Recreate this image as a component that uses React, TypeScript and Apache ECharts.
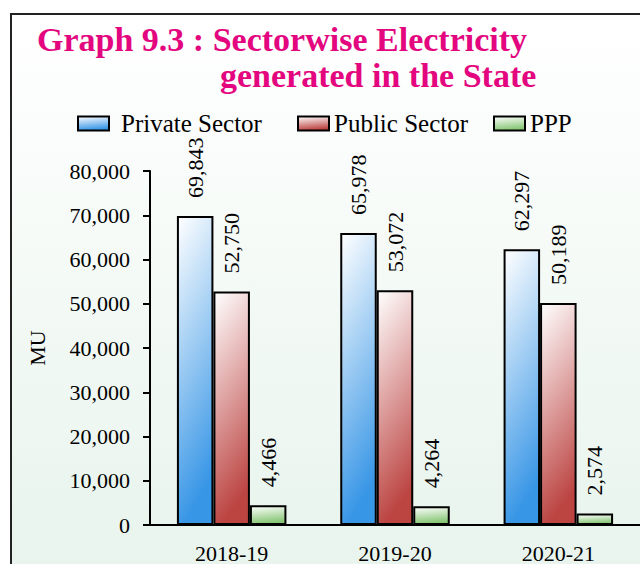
import React, { useEffect, useRef } from "react";
import * as echarts from "echarts";

const categories = ["2018-19", "2019-20", "2020-21"];
const privateSector = [69843, 65978, 62297];
const publicSector = [52750, 53072, 50189];
const ppp = [4466, 4264, 2574];
const seriesNames = ["Private Sector", "Public Sector", "PPP"];
const titleLine1 = "Graph 9.3 : Sectorwise Electricity";
const titleLine2 = "generated in the State";
const yAxisName = "MU";

const FONT = "'Liberation Serif', 'Times New Roman', serif";

const fmt = (v: number) => v.toLocaleString("en-US");

const grad = (to: string) =>
  new echarts.graphic.LinearGradient(0, 0, 0.2, 1, [
    { offset: 0, color: "#ffffff" },
    { offset: 1, color: to },
  ]);

export default function App() {
  const ref = useRef<HTMLDivElement>(null);
  useEffect(() => {
    if (!ref.current) return;
    const chart = echarts.init(ref.current, undefined, { renderer: "svg" });
    const label = {
      show: true,
      position: "top" as const,
      rotate: 90,
      align: "left" as const,
      verticalAlign: "middle" as const,
      distance: 18,
      fontFamily: FONT,
      fontSize: 22,
      color: "#000",
      formatter: (p: any) => fmt(p.value),
    };
    const mk = (name: string, data: number[], color: string) => ({
      name,
      type: "bar" as const,
      data,
      barWidth: 36.5,
      barGap: "0%",
      itemStyle: { color: grad(color), borderColor: "#000", borderWidth: 2 },
      label,
    });
    const legendBase = {
      orient: "horizontal" as const,
      top: 111,
      padding: 0,
      icon: "rect",
      itemWidth: 31,
      itemHeight: 14,
      textStyle: { fontFamily: FONT, fontSize: 25, color: "#000" },
    };
    chart.setOption({
      animation: false,
      backgroundColor: "#ffffff",
      graphic: [
        {
          type: "rect",
          z: -10,
          silent: true,
          shape: { x: 11, y: 14, width: 660, height: 600 },
          style: {
            fill: new echarts.graphic.LinearGradient(0, 0, 0, 1, [
              { offset: 0, color: "#ffffff" },
              { offset: 1, color: "#e6f3eb" },
            ]),
            stroke: "#222",
            lineWidth: 2,
          },
        },
      ],
      title: [
        {
          text: titleLine1,
          left: 37,
          top: 22,
          padding: 0,
          textStyle: { fontFamily: FONT, fontSize: 34, fontWeight: "bold", color: "#e3067f" },
        },
        {
          text: titleLine2,
          left: 220,
          top: 58,
          padding: 0,
          textStyle: { fontFamily: FONT, fontSize: 34, fontWeight: "bold", color: "#e3067f" },
        },
      ],
      legend: [
        { ...legendBase, left: 77, data: [seriesNames[0]], textStyle: { ...legendBase.textStyle, padding: [0, 0, 0, 7] } },
        { ...legendBase, left: 297, data: [seriesNames[1]] },
        { ...legendBase, left: 493, data: [seriesNames[2]] },
      ],
      grid: { left: 150, top: 171, width: 495, height: 357, containLabel: false },
      xAxis: {
        type: "category",
        data: categories,
        axisLine: { lineStyle: { color: "#000", width: 2 } },
        axisTick: { show: false },
        axisLabel: { fontFamily: FONT, fontSize: 22, color: "#000", margin: 17 },
      },
      yAxis: {
        type: "value",
        min: 0,
        max: 80000,
        interval: 10000,
        name: yAxisName,
        nameLocation: "middle",
        nameRotate: 90,
        nameGap: 102,
        nameTextStyle: { fontFamily: FONT, fontSize: 22, color: "#000" },
        axisLine: { show: true, lineStyle: { color: "#000", width: 2 } },
        axisTick: { show: true, length: 7, lineStyle: { color: "#000", width: 2 } },
        axisLabel: { fontFamily: FONT, fontSize: 22, color: "#000", margin: 20, formatter: (v: number) => fmt(v) },
        splitLine: { show: false },
      },
      series: [
        mk(seriesNames[0], privateSector, "#3896e6"),
        mk(seriesNames[1], publicSector, "#bc4542"),
        mk(seriesNames[2], ppp, "#86c674"),
      ],
    });
    return () => chart.dispose();
  }, []);
  return (
    <div
      ref={ref}
      style={{ position: "fixed", left: 0, top: 0, width: 640, height: 564 }}
    />
  );
}
